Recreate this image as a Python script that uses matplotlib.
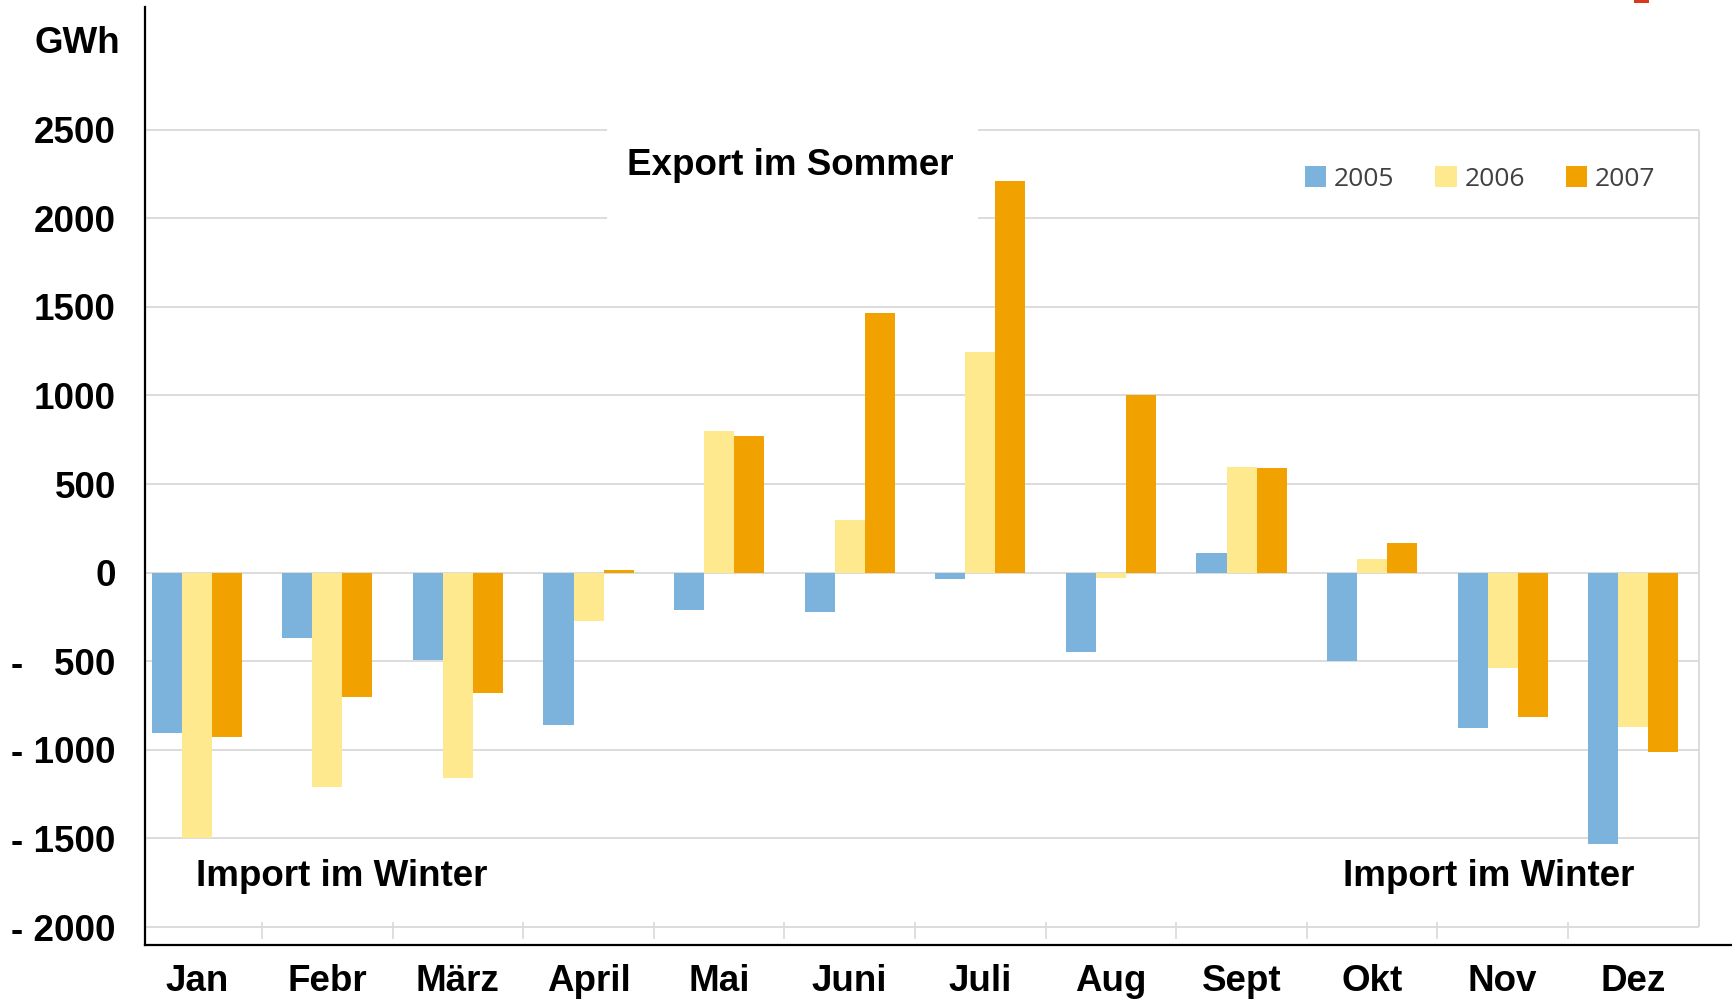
import numpy as np
import matplotlib.pyplot as plt
from matplotlib.patches import Rectangle

# monthly balance in GWh (negative = import)
months = ['Jan', 'Febr', 'März', 'April', 'Mai', 'Juni', 'Juli', 'Aug', 'Sept', 'Okt', 'Nov', 'Dez']
years = ['2005', '2006', '2007']
gwh_2005 = [-905, -370, -492, -858, -211, -224, -36, -450, 113, -498, -878, -1530]
gwh_2006 = [-1500, -1210, -1160, -272, 800, 298, 1247, -32, 596, 78, -539, -869]
gwh_2007 = [-925, -704, -681, 15, 773, 1467, 2210, 1000, 589, 168, -816, -1010]
y_ticks = [-2000, -1500, -1000, -500, 0, 500, 1000, 1500, 2000, 2500]

colors = ['#7BB3DD', '#FFE98E', '#F2A200']
W, H = 1733, 999
bold = dict(family='Liberation Sans', weight='bold', size=26.5, color='black')


def fx(px):
    return px / W


def fy(py):
    return 1 - py / H


def ylab(v):
    if v >= 0:
        return str(v)
    s = str(abs(v))
    return '-' + ' ' * (1 + 2 * (4 - len(s))) + s


fig = plt.figure(figsize=(W / 100, H / 100), dpi=100)
ax = fig.add_axes([fx(145), fy(945), fx(1733) - fx(145), fy(7) - fy(945)])

x = np.arange(len(months))
w = 0.23
for i, (vals, yr) in enumerate(zip([gwh_2005, gwh_2006, gwh_2007], years)):
    ax.bar(x + (i - 1) * w, vals, width=w, color=colors[i], label=yr, zorder=3)

# light excel style grid + plot area border
ax.hlines(y_ticks, -0.42, 11.5, color='#d9d9d9', lw=1.3, zorder=1)
ax.vlines(11.5, -2000, 2500, color='#d9d9d9', lw=1.3, zorder=1)
ax.vlines(np.arange(1, 12) - 0.5, -1970, -2065, color='#d9d9d9', lw=1.2, zorder=1)

ax.set_xlim(-0.396, 11.763)
ax.set_ylim(-2101, 3192)
ax.set_yticks(y_ticks)
ax.set_yticklabels([ylab(v) for v in y_ticks])
ax.set_xticks(x)
ax.set_xticklabels(months)
for lab in ax.get_xticklabels() + ax.get_yticklabels():
    lab.set_fontproperties('Liberation Sans')
    lab.set_fontweight('bold')
    lab.set_fontsize(26.5)
ax.tick_params(axis='y', length=0, pad=21)
ax.tick_params(axis='x', length=0, pad=14)

for s in ['top', 'right']:
    ax.spines[s].set_visible(False)
for s in ['left', 'bottom']:
    ax.spines[s].set_color('black')
    ax.spines[s].set_linewidth(1.6)

ax.legend(loc='center left', bbox_to_anchor=(fx(1305), fy(179)), bbox_transform=fig.transFigure,
          ncol=3, frameon=False, borderpad=0, borderaxespad=0,
          handlelength=0.8, handleheight=0.8, handletextpad=0.3, columnspacing=1.55,
          prop={'family': 'Open Sans', 'size': 19}, labelcolor='#404040')

# white boxes behind the labels
fig.patches.append(Rectangle((fx(607), fy(226)), fx(978) - fx(607), fy(120) - fy(226),
                             transform=fig.transFigure, facecolor='white', edgecolor='none', zorder=2))
fig.patches.append(Rectangle((fx(176), fy(922)), fx(902) - fx(176), fy(840) - fy(922),
                             transform=fig.transFigure, facecolor='white', edgecolor='none', zorder=2))
fig.patches.append(Rectangle((fx(1634), fy(3)), fx(1649) - fx(1634), 3 / H,
                             transform=fig.transFigure, facecolor='#D9381E', edgecolor='none', zorder=2))

fig.text(fx(35), fy(53), 'GWh', ha='left', va='baseline', zorder=3, **bold)
fig.text(fx(627), fy(175), 'Export im Sommer', ha='left', va='baseline', zorder=3, **bold)
fig.text(fx(196), fy(886), 'Import im Winter', ha='left', va='baseline', zorder=3, **bold)
fig.text(fx(1343), fy(886), 'Import im Winter', ha='left', va='baseline', zorder=3, **bold)

fig.savefig('out.png', dpi=100)
